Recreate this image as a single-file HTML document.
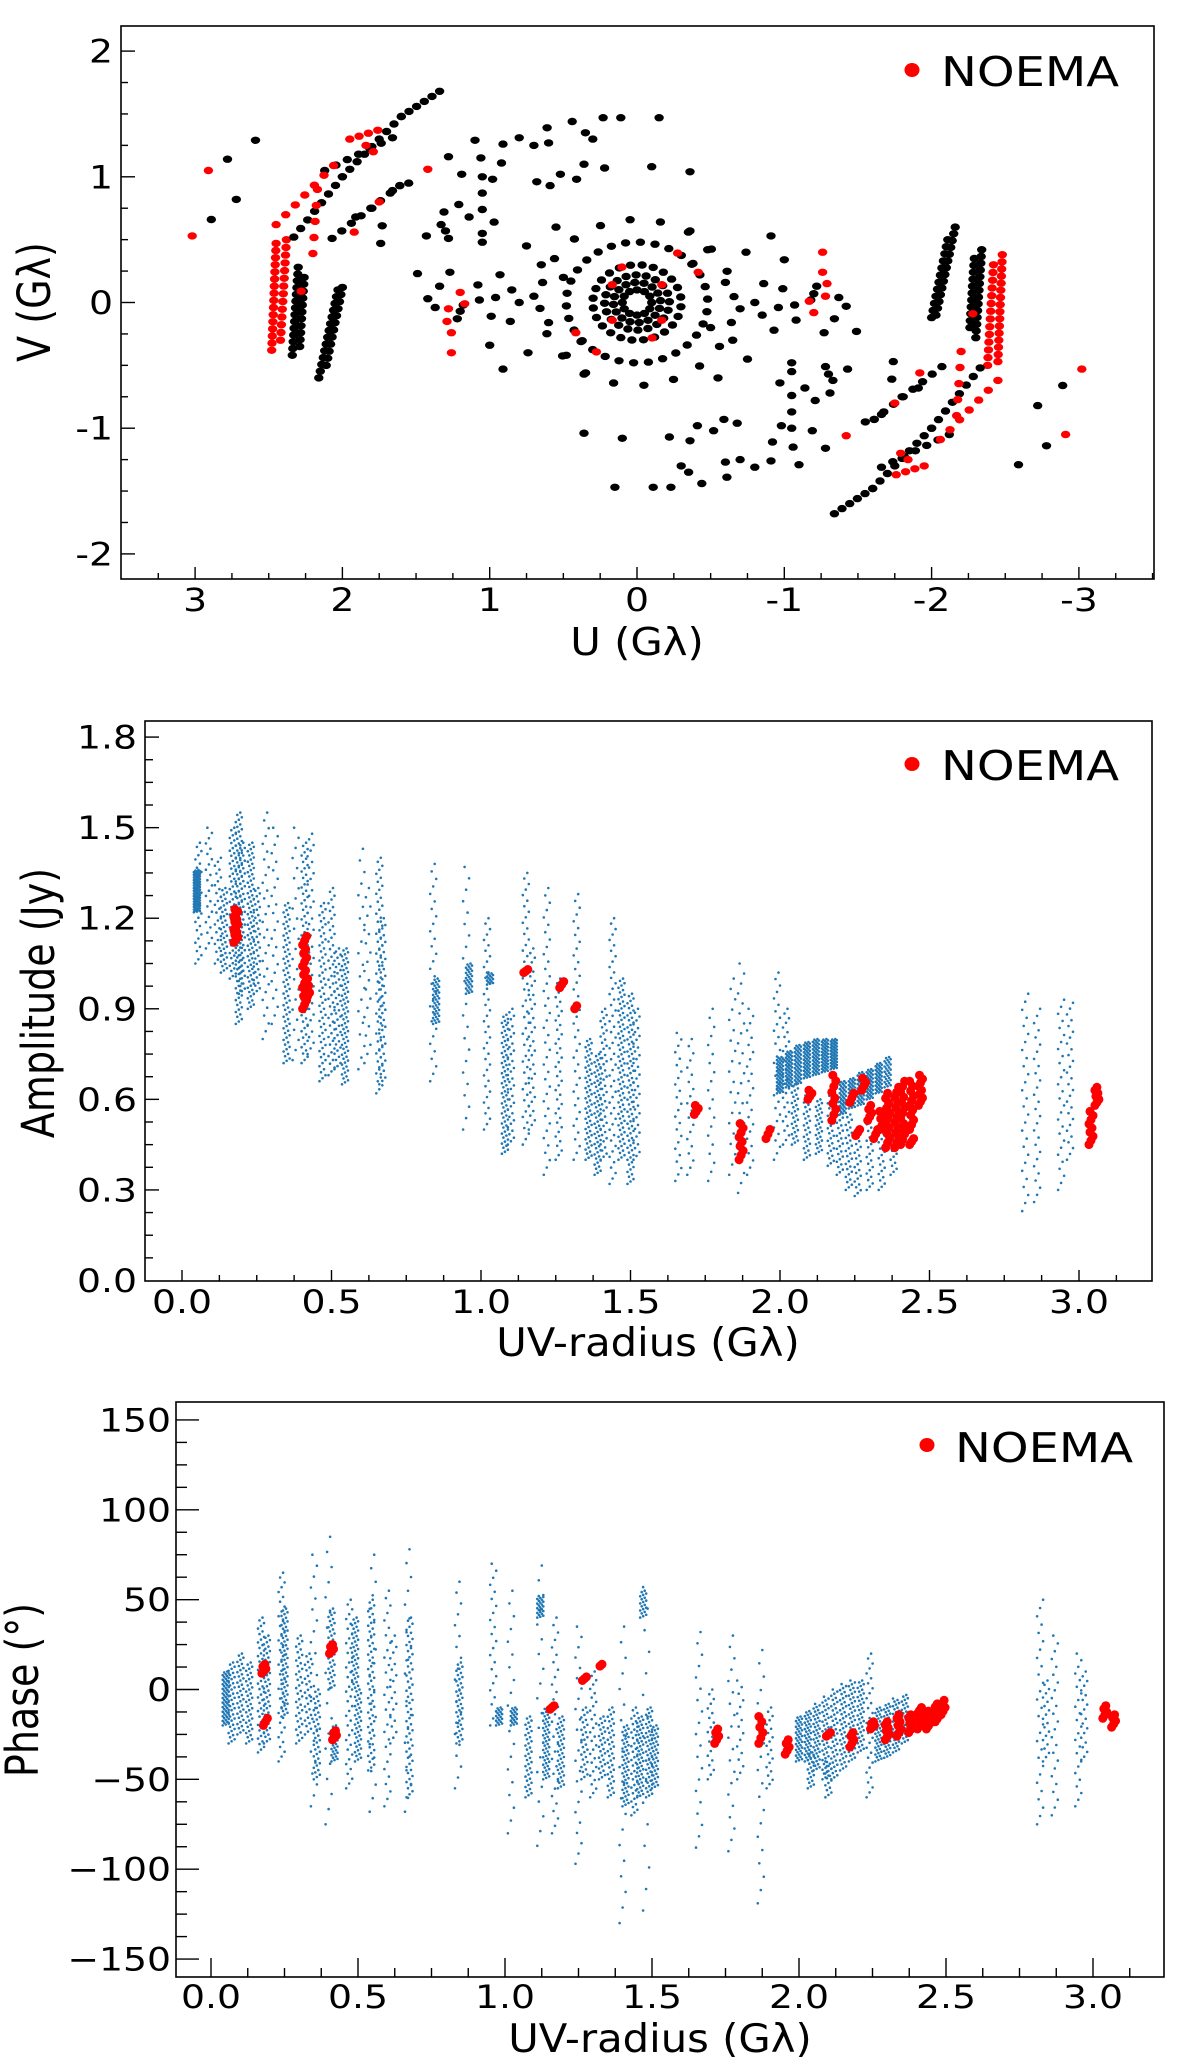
<!DOCTYPE html>
<html><head><meta charset="utf-8"><style>html,body{margin:0;padding:0;background:#fff}svg{display:block}text{font-family:"DejaVu Sans","Liberation Sans",sans-serif;fill:#000}</style></head>
<body>
<svg id="fig" xmlns="http://www.w3.org/2000/svg" width="1200" height="2066" viewBox="0 0 1200 2066">
<rect x="0" y="0" width="1200" height="2066" fill="#fff"/>
<g id="p1"></g>
<g id="p2"></g>
<g id="p3"></g>
</svg>
<script>
// ---------- Panel 1 data (one half; the other half is the mirror (-u,-v)) ----------
const uvSegU0=[2.48,2.42,2.34,2.29,2.16,2.11,2.33,2.0,1.6,2.12,2.07,2.45,1.95,2.2];
const uvSegV0=[-0.38,-0.3,-0.42,-0.35,-0.6,-0.5,0.52,1.0,1.48,1.05,0.51,0.62,1.3,0.39];
const uvSegU1=[2.45,2.38,2.30,2.26,2.03,2.0,2.0,1.6,1.34,1.66,1.61,2.06,1.76,2.17];
const uvSegV1=[0.47,0.5,0.28,0.2,0.1,0.12,1.0,1.48,1.68,1.31,0.93,1.09,1.37,0.9];
const uvSegN=[16,14,14,11,14,12,8,9,6,7,8,7,4,5];
const uvSegRed=[1,1,0,0,0,0,0,0,0,0,0,1,1,1];
const uvPtU=[2.89,2.72,2.78,2.59,1.91,1.8,1.73,1.66,1.61,1.55,1.28,1.19,1.1,1.06,1.05,0.98,0.92,0.91,0.8,0.7,0.61,0.6,0.44,0.35,0.3,0.23,0.11,-0.15,0.68,0.59,0.52,0.41,0.36,0.22,-0.1,-0.36,1.05,1.21,1.14,1.05,0.97,1.31,1.33,1.3,1.05,1.28,1.05,1.43,1.49,1.27,1.34,1.42,1.18,1.2,1.22,1.08,1.07,0.96,0.93,0.99,0.86,0.6,1.74,1.37,1.0,0.91,0.74,0.48,0.38,0.36,0.85,0.8,0.7,0.55,0.75,0.65,0.5,
3.02,2.91,1.84,1.79,1.92,1.75,1.42,1.2,1.28,1.29,1.26,1.26,1.17,2.28];
const uvPtV=[0.66,0.82,1.14,1.29,0.68,0.75,0.61,0.89,0.93,0.95,1.16,1.02,1.29,1.15,1.0,0.98,1.11,1.26,1.31,1.25,1.39,1.27,1.44,1.35,1.3,1.47,1.47,1.47,0.96,0.93,1.02,0.98,1.1,1.07,1.08,1.04,0.87,0.78,0.68,0.74,0.64,0.72,0.62,0.57,0.55,0.51,0.48,0.53,0.23,0.24,0.13,0.03,-0.02,-0.07,-0.13,0.14,0.02,0.04,0.22,-0.11,-0.15,-0.16,0.47,-0.04,-0.34,-0.53,-0.4,-0.42,-0.31,-0.57,0.1,0.0,0.05,0.6,0.45,0.3,0.2,
0.53,1.05,1.25,1.2,0.56,0.8,1.06,0.08,-0.05,-0.15,-0.24,-0.4,-0.01,0.09];
const uvPtRed=[0,0,0,0,0,0,0,0,0,0,0,0,0,0,0,0,0,0,0,0,0,0,0,0,0,0,0,0,0,0,0,0,0,0,0,0,0,0,0,0,0,0,0,0,0,0,0,0,0,0,0,0,0,0,0,0,0,0,0,0,0,0,0,0,0,0,0,0,0,0,0,0,0,0,0,0,0,
1,1,1,1,1,1,1,1,1,1,1,1,1,1];
const ringR=[0.1,0.16,0.22,0.3,0.48,0.66];
const ringN=[12,16,20,24,30,20];
const ringRedR=[0.48,0.48,0.22,0.22,0.3];
const ringRedA=[125,150,140,40,70];
const uTicks=[3,2,1,0,-1,-2,-3];
const vTicks=[2,1,0,-1,-2];

// ---------- Panel 2 data ----------
const ampR=[0.05,0.055,0.09,0.12,0.14,0.17,0.19,0.2,0.23,0.25,0.28,0.31,0.35,0.38,0.41,0.43,0.47,0.5,0.52,0.545,0.6,0.62,0.66,0.67,0.84,0.85,0.95,0.96,1.02,1.03,1.08,1.1,1.15,1.17,1.22,1.26,1.32,1.36,1.39,1.41,1.44,1.47,1.5,1.52,1.66,1.7,1.77,1.84,1.87,1.9,1.99,2.02,
2.0,2.03,2.06,2.09,2.12,2.15,2.18,2.05,2.09,2.13,2.17,2.2,2.21,2.24,2.27,2.3,2.33,2.36,2.23,2.26,2.3,2.34,2.38,2.82,2.86,2.94,2.97];
const ampLo=[1.22,1.05,1.1,1.05,1.02,1.0,0.85,0.95,0.9,0.95,0.8,0.85,0.72,0.73,0.72,0.75,0.66,0.68,0.7,0.65,0.7,0.72,0.62,0.65,0.66,0.85,0.5,0.95,0.5,0.98,0.42,0.45,0.45,0.5,0.35,0.4,0.4,0.4,0.35,0.4,0.32,0.4,0.32,0.4,0.33,0.35,0.33,0.35,0.29,0.35,0.4,0.45,
0.62,0.64,0.65,0.67,0.68,0.69,0.7,0.45,0.4,0.42,0.38,0.35,0.55,0.57,0.58,0.6,0.62,0.64,0.3,0.28,0.3,0.3,0.35,0.23,0.26,0.3,0.4];
const ampHi=[1.36,1.45,1.5,1.4,1.3,1.5,1.55,1.45,1.45,1.3,1.55,1.5,1.25,1.5,1.45,1.48,1.25,1.3,1.1,1.1,1.43,1.3,1.4,1.2,1.38,1.0,1.37,1.05,1.2,1.02,0.88,0.9,1.35,1.1,1.3,1.0,1.28,0.8,0.75,0.9,1.2,1.0,0.95,0.9,0.82,0.8,0.9,1.0,1.05,0.9,1.02,0.9,
0.74,0.76,0.78,0.79,0.8,0.8,0.8,0.65,0.62,0.6,0.62,0.6,0.66,0.67,0.69,0.7,0.72,0.74,0.55,0.5,0.55,0.5,0.5,0.95,0.9,0.93,0.92];
const ampN=[40,15,12,14,20,30,45,30,40,20,15,12,35,12,35,20,30,25,20,35,10,10,30,25,15,20,12,15,20,8,35,20,25,20,20,20,20,30,30,25,25,40,40,20,12,10,10,10,12,12,15,15,
25,25,25,25,25,25,25,15,15,15,15,15,20,20,20,20,20,15,15,12,12,10,8,14,14,14,14];
const ampRedR=[0.18,0.41,0.42,1.15,1.27,1.32,1.72,1.87,1.96,2.1,2.18,2.24,2.28,2.26,2.3,2.32,2.36,2.39,2.41,2.44,2.47,2.34,2.44,3.04,3.06];
const ampRedLo=[1.12,0.9,0.93,1.02,0.97,0.9,0.55,0.4,0.47,0.6,0.53,0.59,0.63,0.48,0.53,0.47,0.44,0.44,0.45,0.5,0.58,0.5,0.45,0.45,0.58];
const ampRedHi=[1.23,1.14,1.0,1.03,0.99,0.91,0.58,0.52,0.5,0.63,0.68,0.62,0.67,0.5,0.58,0.5,0.62,0.64,0.66,0.66,0.68,0.56,0.47,0.56,0.64];
const ampRedN=[14,18,7,3,3,2,4,9,3,4,9,3,4,3,5,3,12,13,13,11,9,6,3,9,7];
const ampYTicks=["0.0","0.3","0.6","0.9","1.2","1.5","1.8"];
const radTicks=["0.0","0.5","1.0","1.5","2.0","2.5","3.0"];

// ---------- Panel 3 data ----------
const phR=[0.05,0.07,0.1,0.13,0.17,0.19,0.24,0.25,0.3,0.33,0.35,0.36,0.4,0.41,0.42,0.47,0.49,0.5,0.55,0.545,0.6,0.62,0.67,0.675,0.84,0.845,0.96,0.98,1.02,1.03,1.08,1.12,1.12,1.14,1.17,1.19,1.25,1.27,1.3,1.33,1.36,1.4,1.41,1.44,1.47,1.46,1.49,1.51,1.48,1.66,1.7,1.77,1.8,1.87,1.9,
2.0,2.03,2.06,2.09,2.12,2.15,2.18,2.21,2.24,2.27,2.3,2.33,2.36,2.04,2.1,2.82,2.84,2.87,2.95,2.97];
const phLo=[-20,-30,-25,-30,-35,-30,-40,-15,-30,-25,-65,-50,-75,0,-40,-55,0,-40,-68,-45,-65,-30,-68,-60,-55,-30,-20,-20,-80,-20,-60,40,-87,-50,-80,-55,-97,-50,-60,-50,-60,-130,-65,-70,40,-60,-60,-55,-123,-88,-50,-90,-50,-119,-55,
-40,-40,-45,-50,-50,-45,-40,-35,-60,-40,-38,-35,-30,-55,-60,-75,-40,-70,-65,-40];
const phHi=[10,15,20,15,40,30,65,45,30,20,75,0,85,45,-20,50,40,0,75,50,55,30,78,40,60,15,70,-10,55,-10,-15,52,69,-10,40,-15,35,-10,10,-15,-10,35,-20,-10,55,-15,-10,-20,57,32,0,30,5,22,-10,
-15,-12,-8,-4,0,3,5,5,20,-10,-8,-5,-3,-35,-40,50,5,30,20,10];
const phN=[30,20,20,20,25,25,20,30,20,15,12,20,10,20,15,20,20,20,10,30,15,10,10,30,10,20,12,10,10,10,20,12,10,25,15,20,12,15,15,15,20,10,25,20,10,25,25,20,8,10,10,10,8,10,10,
20,20,22,22,22,22,22,20,15,20,20,18,15,10,8,14,10,12,12,10];
const phRedR=[0.18,0.185,0.41,0.42,1.16,1.27,1.33,1.72,1.87,1.96,2.1,2.18,2.25,2.3,2.34,2.38,2.41,2.44,2.47,2.49,3.04,3.07];
const phRedLo=[9,-20,20,-28,-11,5,13,-30,-30,-36,-26,-32,-22,-28,-26,-24,-22,-22,-18,-14,-16,-21];
const phRedHi=[14,-16,25,-23,-9,7,14,-22,-15,-28,-24,-24,-18,-18,-14,-14,-10,-12,-8,-6,-9,-14];
const phRedN=[5,3,5,5,3,3,2,5,6,5,3,5,5,7,7,7,8,7,7,5,5,5];
const phYTicks=[150,100,50,0,-50,-100,-150];

// ---------- helpers ----------
const NS="http://www.w3.org/2000/svg";
const DENS=2; // rendering density multiplier for blue stripes
function mk(tag,attrs,parent){const e=document.createElementNS(NS,tag);for(const k in attrs)e.setAttribute(k,attrs[k]);parent.appendChild(e);return e;}
function txt(parent,s,x,y,size,anchor,sx,rot,name){
  const t=document.createElementNS(NS,'text');
  
  
  t.setAttribute('font-size',size);
  t.setAttribute('text-anchor',anchor);
  t.setAttribute('transform',rot?`translate(${x},${y}) rotate(-90) scale(1,${sx})`:`translate(${x},${y}) scale(${sx},1)`);
  t.textContent=s;parent.appendChild(t);return t;}
function frame(g,L,T,R,B,name){
  const r=mk('rect',{x:L,y:T,width:R-L,height:B-T,fill:'none',stroke:'#000','stroke-width':1.6},g);
  
  }
function tick(g,x1,y1,x2,y2){const l=mk('line',{x1,y1,x2,y2,stroke:'#000','stroke-width':1.4},g);
  
  }
function legend(g,cx,cy,tx,ty,size){
  const c=mk('ellipse',{cx,cy,rx:7.5,ry:7,fill:'#f00'},g);
  
  
  txt(g,'NOEMA',tx,ty,size,'start',1.17,false,'legend-label-noema');}
function dot(g,x,y,r,col,name){const c=mk('circle',{cx:x.toFixed(1),cy:y.toFixed(1),r,fill:col},g);
  
  }
function stripe(g,X,Y,r,lo,hi,n,rad,col,name,jit){
  const x0=X(r);
  for(let i=0;i<n;i++){const f=n===1?0.5:i/(n-1);const v=lo+(hi-lo)*f;
    dot(g,x0+jit*(((i*7)%5)-2)/2,Y(v),rad,col,name);}
}

// ---------- Panel 1 ----------
(function(){
 const g=document.getElementById('p1');
 const L=121,R=1154,T=26,B=579;
 const X=u=>637-u*147.3, Y=v=>302.5-v*125.7;
 const pts=mk('g',{},g);
 
 
 function uvDot(u,v,red){
   for(const s of [1,-1]){
     const e=mk('ellipse',{cx:X(s*u).toFixed(1),cy:Y(s*v).toFixed(1),rx:4.7,ry:3.7,fill:red?'#f00':'#000'},pts);
     
     
   }}
 for(let k=0;k<uvSegN.length;k++){const n=uvSegN[k];
   for(let i=0;i<n;i++){const f=i/(n-1);uvDot(uvSegU0[k]+(uvSegU1[k]-uvSegU0[k])*f,uvSegV0[k]+(uvSegV1[k]-uvSegV0[k])*f,uvSegRed[k]);}}
 for(let k=0;k<uvPtU.length;k++)uvDot(uvPtU[k],uvPtV[k],uvPtRed[k]);
 for(let k=0;k<ringR.length;k++){const n=ringN[k];
   for(let i=0;i<n/2;i++){const a=(i/n)*2*Math.PI+k*0.3;uvDot(ringR[k]*Math.cos(a),ringR[k]*Math.sin(a),0);}}
 for(let k=0;k<ringRedR.length;k++){const a=ringRedA[k]*Math.PI/180;uvDot(ringRedR[k]*Math.cos(a),ringRedR[k]*Math.sin(a),1);}
 frame(g,L,T,R,B,'uv-plot-frame');
 for(let u=-3.5;u<=3.5001;u+=0.25){const x=X(u);if(x<=L+1||x>=R-1)continue;const maj=Math.abs(u-Math.round(u))<1e-6;tick(g,x,B,x,B-(maj?12:6));}
 for(let v=-2.25;v<=2.2;v+=0.25){const y=Y(v);if(y<=T+1||y>=B-1)continue;const maj=Math.abs(v-Math.round(v))<1e-6;tick(g,L,y,L+(maj?14:7),y);}
 uTicks.forEach(u=>txt(g,String(u),X(u),B+32,32,'middle',1.18,false,'x-tick-label'));
 vTicks.forEach(v=>txt(g,String(v),L-8,Y(v)+11.5,32,'end',1.18,false,'y-tick-label'));
 txt(g,'U (Gλ)',637,655,38,'middle',1.1,false,'x-axis-title');
 txt(g,'V (Gλ)',50,302,38,'middle',1.2,true,'y-axis-title');
 legend(g,912,70,941,86,41);
})();

// ---------- Panel 2 ----------
(function(){
 const g=document.getElementById('p2');
 const L=145,R=1152,T=721,B=1281;
 const X=r=>182+r*299, Y=a=>1280.5-a*301.9;
 const pts=mk('g',{},g);
 
 
 for(let k=0;k<ampR.length;k++)stripe(pts,X,Y,ampR[k],ampLo[k],ampHi[k],ampN[k]*DENS,1.3,'#1f77b4','amplitude-point',3);
 for(let k=0;k<ampRedR.length;k++)stripe(pts,X,Y,ampRedR[k],ampRedLo[k],ampRedHi[k],ampRedN[k],4.5,'#f00','amplitude-point-noema',2);
 frame(g,L,T,R,B,'amplitude-plot-frame');
 for(let r=-0.125;r<=3.26;r+=0.125){const x=X(r);if(x<=L+1||x>=R-1)continue;const maj=Math.abs(r*2-Math.round(r*2))<1e-6;tick(g,x,B,x,B-(maj?11:6));}
 for(let a=0;a<=1.86;a+=0.075){const y=Y(a);if(y<=T+1||y>=B-1)continue;const maj=Math.abs(a/0.3-Math.round(a/0.3))<1e-6;tick(g,L,y,L+(maj?14:8),y);}
 radTicks.forEach(s=>txt(g,s,X(parseFloat(s)),B+32,32,'middle',1.18,false,'x-tick-label'));
 ampYTicks.forEach(s=>txt(g,s,L-8,Y(parseFloat(s))+11.5,32,'end',1.18,false,'y-tick-label'));
 txt(g,'UV-radius (Gλ)',648,1356,39,'middle',1.07,false,'x-axis-title');
 txt(g,'Amplitude (Jy)',54,1003,38,'middle',1.2,true,'y-axis-title');
 legend(g,912,764,941,780,41);
})();

// ---------- Panel 3 ----------
(function(){
 const g=document.getElementById('p3');
 const L=176,R=1164,T=1402,B=1977;
 const X=r=>211+r*294, Y=p=>1689.5-p*1.797;
 const pts=mk('g',{},g);
 
 
 for(let k=0;k<phR.length;k++)stripe(pts,X,Y,phR[k],phLo[k],phHi[k],phN[k]*DENS,1.3,'#1f77b4','phase-point',3);
 for(let k=0;k<phRedR.length;k++)stripe(pts,X,Y,phRedR[k],phRedLo[k],phRedHi[k],phRedN[k],4.5,'#f00','phase-point-noema',2);
 frame(g,L,T,R,B,'phase-plot-frame');
 for(let r=-0.125;r<=3.26;r+=0.125){const x=X(r);if(x<=L+1||x>=R-1)continue;const maj=Math.abs(r*2-Math.round(r*2))<1e-6;tick(g,x,B,x,B-(maj?19:9));}
 for(let p=-162.5;p<=162.5;p+=12.5){const y=Y(p);if(y<=T+1||y>=B-1)continue;const maj=Math.abs(p/50-Math.round(p/50))<1e-6;tick(g,L,y,L+(maj?23:11),y);}
 radTicks.forEach(s=>txt(g,s,X(parseFloat(s)),B+31,32,'middle',1.18,false,'x-tick-label'));
 phYTicks.forEach(p=>txt(g,(p<0?'\u2212':'')+Math.abs(p),L-5,Y(p)+11.5,32,'end',1.18,false,'y-tick-label'));
 txt(g,'UV-radius (Gλ)',660,2052,39,'middle',1.07,false,'x-axis-title');
 txt(g,'Phase (°)',38,1690,38,'middle',1.2,true,'y-axis-title');
 legend(g,927,1445,955,1462,41);
})();
</script>
</body></html>
